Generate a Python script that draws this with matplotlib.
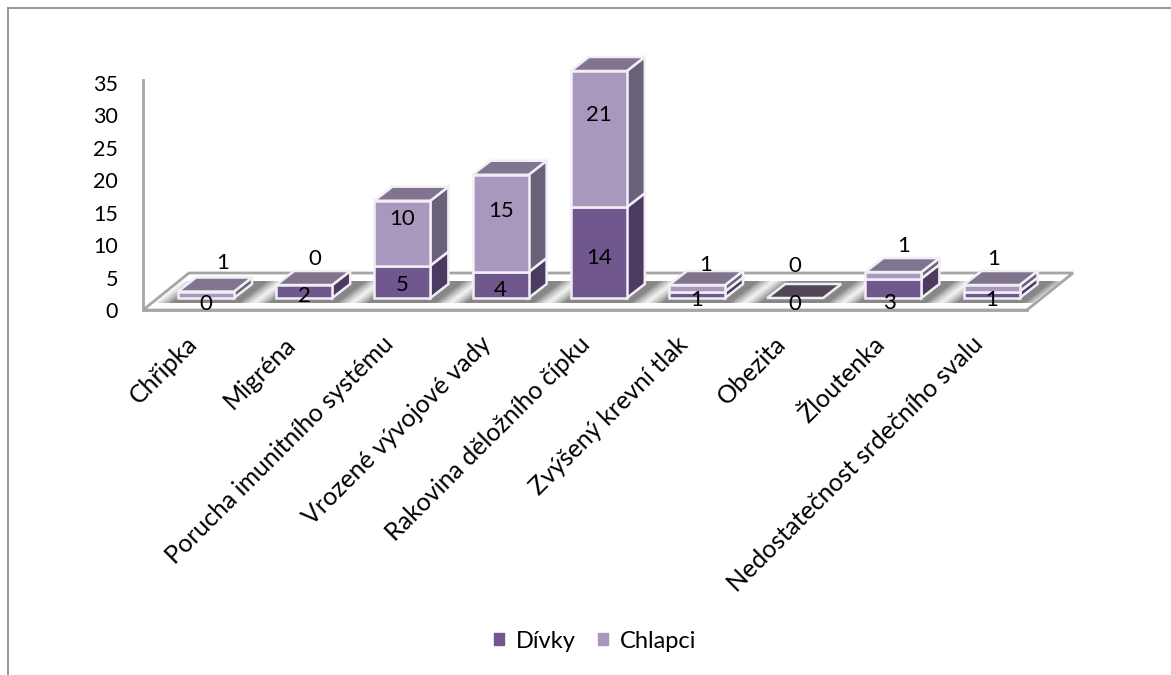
import numpy as np
import matplotlib
matplotlib.use("Agg")
import matplotlib.pyplot as plt
from matplotlib.patches import Patch, Polygon
from matplotlib.lines import Line2D
from matplotlib.transforms import ScaledTranslation

categories = ["Chřipka", "Migréna", "Porucha imunitního systému", "Vrozené vývojové vady",
              "Rakovina děložního čípku", "Zvýšený krevní tlak", "Obezita", "Žloutenka",
              "Nedostatečnost srdečního svalu"]
divky = [0, 2, 5, 4, 14, 1, 0, 3, 1]
chlapci = [1, 0, 10, 15, 21, 1, 0, 1, 1]
y_ticks = [0, 5, 10, 15, 20, 25, 30, 35]

# label nudges in pixels, the labels were dragged around by hand
divky_nudge = [(0, -5.5), (0, -4), (0, -3.7), (0, -4.5), (0, -5), (0, -5.7), (0, -5.5), (-4, -15), (0, -5.7)]
chlapci_nudge = [(17, 32), (11, 26.5), (0, 14.5), (0, 12), (0, 24.5), (9, 23.5), (0, 32.5), (10, 29.5), (2, 29)]

plt.rcParams["font.family"] = ["Lato", "DejaVu Sans"]

W, H = 1171, 675
PX_X = 98.2   # pixels per category
PX_Y = 6.486  # pixels per unit
BAR_W = 56 / PX_X
DEPTH_X = 18 / PX_X
DEPTH_Y = 14 / PX_Y
LIFT = 12 / PX_Y  # bars stand a little behind the front edge of the floor
FLOOR_X = 46 / PX_X
FLOOR_Y = 37 / PX_Y

FRONT = {"d": "#70578e", "c": "#a998be"}
SIDE = {"d": "#4d3a60", "c": "#6b6079"}
TOP = "#80748f"
EMPTY = "#4f4656"
GREY = "#a6a6a6"
EDGE = "#f1eef5"

fig = plt.figure(figsize=(W / 100, H / 100), dpi=100)
ax = fig.add_axes([143 / W, 1 - 310 / H, (1027 - 143) / W, 230 / H])
xlim = ((143 - 206) / PX_X, (1027 - 206) / PX_X)
ylim = (0, 230 / PX_Y)

# floor
floor = Polygon([(xlim[0], 0), (xlim[1], 0), (xlim[1] + FLOOR_X, FLOOR_Y), (xlim[0] + FLOOR_X, FLOOR_Y)],
                closed=True, facecolor="white", edgecolor=GREY, linewidth=2, clip_on=False, zorder=1)
ax.add_patch(floor)

# soft shadows on the floor, either side of each column
band_lo, band_hi = 7 / PX_Y, 29 / PX_Y
xs = np.linspace(xlim[0], xlim[1] + FLOOR_X, 1200)
ys = np.linspace(band_lo, band_hi, 40)
xx, yy = np.meshgrid(xs, ys)
uu = xx - (yy - LIFT) * (DEPTH_X / DEPTH_Y)
shade = np.zeros_like(xx)
for i in range(len(categories)):
    left = i - BAR_W / 2
    right = i + BAR_W / 2 + DEPTH_X * 0.6
    dist = np.where(uu < left, left - uu, np.where(uu > right, uu - right, 0))
    shade = np.maximum(shade, np.clip(1 - dist / 0.2, 0, 1) ** 1.4)
rgba = np.zeros(xx.shape + (4,))
rgba[..., :3] = 0.45
rgba[..., 3] = shade * 0.85
inside_x = (xx > xlim[0] + (yy / FLOOR_Y) * FLOOR_X + 0.02) & (xx < xlim[1] + (yy / FLOOR_Y) * FLOOR_X - 0.02)
rgba[..., 3] *= inside_x
ax.imshow(rgba, extent=(xs[0], xs[-1], band_lo, band_hi), origin="lower", aspect="auto",
          interpolation="bilinear", zorder=1.5, clip_on=False)

x = np.arange(len(categories))
d = np.array(divky, dtype=float)
c = np.array(chlapci, dtype=float)

ax.bar(x, np.where(d > 0, d, np.nan), BAR_W, bottom=LIFT, color=FRONT["d"], edgecolor=EDGE,
       linewidth=1.8, zorder=3, clip_on=False)
ax.bar(x, np.where(c > 0, c, np.nan), BAR_W, bottom=LIFT + d, color=FRONT["c"], edgecolor=EDGE,
       linewidth=1.8, zorder=3, clip_on=False)


def side_face(i, low, high, color):
    r = i + BAR_W / 2
    ax.add_patch(Polygon([(r, LIFT + low), (r + DEPTH_X, LIFT + low + DEPTH_Y),
                          (r + DEPTH_X, LIFT + high + DEPTH_Y), (r, LIFT + high)],
                         closed=True, facecolor=color, edgecolor=EDGE, linewidth=1.8,
                         zorder=2.5, clip_on=False))


for i in x:
    if d[i] > 0:
        side_face(i, 0, d[i], SIDE["d"])
    if c[i] > 0:
        side_face(i, d[i], d[i] + c[i], SIDE["c"])
    top = LIFT + d[i] + c[i]
    l, r = i - BAR_W / 2, i + BAR_W / 2
    ax.add_patch(Polygon([(l, top), (r, top), (r + DEPTH_X, top + DEPTH_Y), (l + DEPTH_X, top + DEPTH_Y)],
                         closed=True, facecolor=TOP if d[i] + c[i] > 0 else EMPTY, edgecolor=EDGE,
                         linewidth=1.8, zorder=2.7, clip_on=False))

# data labels
for i in x:
    for value, centre, (nx, ny) in ((divky[i], LIFT + d[i] / 2, divky_nudge[i]),
                                    (chlapci[i], LIFT + d[i] + c[i] / 2, chlapci_nudge[i])):
        ax.annotate(str(value), (i, centre), xytext=(nx * 0.72, ny * 0.72), textcoords="offset points",
                    ha="center", va="center", fontsize=16, color="black", zorder=5, annotation_clip=False)

ax.set_xlim(xlim)
ax.set_ylim(ylim)
ax.patch.set_visible(False)
for side in ("top", "right"):
    ax.spines[side].set_visible(False)
for side in ("left", "bottom"):
    ax.spines[side].set_color(GREY)
    ax.spines[side].set_linewidth(2)

ax.set_yticks(y_ticks)
ax.tick_params(axis="y", length=0, pad=18, labelsize=15.5)
ax.set_xticks(x)
ax.set_xticklabels(categories, rotation=45, ha="right", va="top", rotation_mode="anchor", fontsize=18)
ax.tick_params(axis="x", length=0, pad=16)
for lab in ax.get_xticklabels():
    lab.set_transform(lab.get_transform() + ScaledTranslation(-21 / 100, 0, fig.dpi_scale_trans))

ax.legend(handles=[Patch(color=FRONT["d"], label="Dívky"), Patch(color=FRONT["c"], label="Chlapci")],
          ncol=2, frameon=False, fontsize=17, handlelength=0.43, handleheight=0.43, handletextpad=0.48,
          columnspacing=0.95, loc="center", bbox_to_anchor=(595 / W, 1 - 641 / H),
          bbox_transform=fig.transFigure)

# outer chart border, only top and left survive the crop
fig.add_artist(Line2D([8 / W, 8 / W], [0, 1 - 8 / H], color="#868686", lw=1.2))
fig.add_artist(Line2D([8 / W, 1], [1 - 8 / H, 1 - 8 / H], color="#868686", lw=1.2))

fig.savefig("out.png", dpi=100)
